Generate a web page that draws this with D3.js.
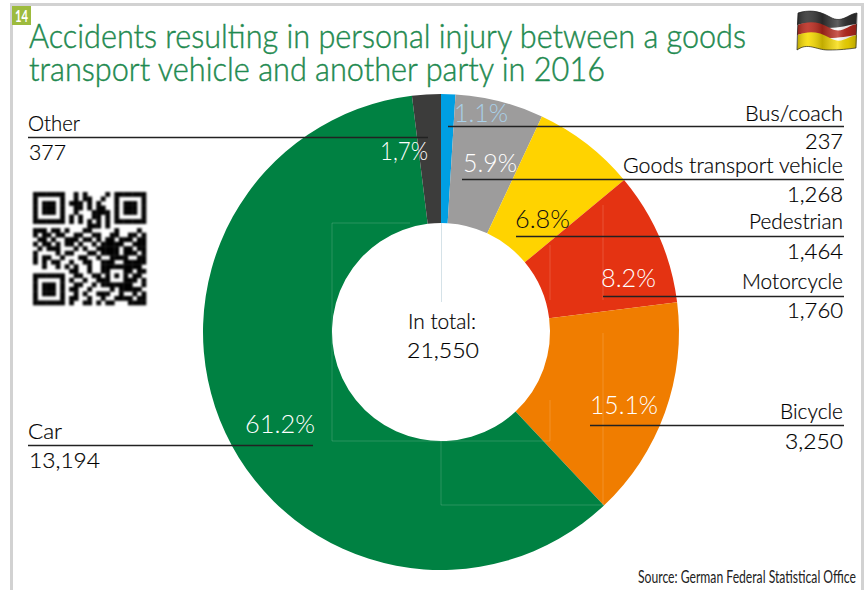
<!DOCTYPE html>
<html><head><meta charset="utf-8">
<script src="https://cdn.jsdelivr.net/npm/d3@7/dist/d3.min.js"></script>
<style>html,body{margin:0;padding:0;background:#fff}svg{display:block}text{font-family:Lato,"Open Sans",sans-serif}</style>
</head><body><svg id="c" width="865" height="590"></svg>
<script>
// ---------- data ----------
const categories = ["Bus/coach","Goods transport vehicle","Pedestrian","Motorcycle","Bicycle","Car","Other"];
const values = [237,1268,1464,1760,3250,13194,377];
const drawnShares = [0.97,6.0,7.0,9.03,15.0,60.05,1.95];
const shareLabels = ["1.1%","5.9%","6.8%","8.2%","15.1%","61.2%","1,7%"];
const titleLines = ["Accidents resulting in personal injury between a goods","transport vehicle and another party in 2016"];
const totalLabel = "In total:";
const sourceText = "Source: German Federal Statistical Office";
const badgeText = "14";
const qrRows = [
"1111111001010000101111111","1000001001011001001000001","1011101011101010001011101",
"1011101001101011001011101","1011101001000111101011101","1000001010100110101000001",
"1111111010101010101111111","0000000000001110100000000","1110110100011000001000010",
"1011011001100110011001101","0110100111011010110111011","1011010110100101111100111",
"0101110001010011111011011","1000010110001101111011101","1011001000110010011110011",
"1010110010011001110011111","0010010101001001111111110","0000000011001001100011011",
"1111111001100110101010110","1000001010010011100011101","1011101001100101111111001",
"1011101011001000010111110","1011101001010011100100101","1000001011001001001111011",
"1111111010011010110001111"];

// ---------- styles / layout ----------
const sliceColors = ["#009fe3","#9d9c9c","#ffd300","#e43312","#f07d00","#008142","#3c3c3b"];
const shareColors = ["#a9d0e8","#fff","#111","#fff","#fff","#fff","#fff"];
const cx = 441, cy = 332, rOuter = 238, rInner = 109;
// [line x0, line x1, line y, name x0, name x1, name baseline, count x0, count x1, count baseline]
const labelLayout = [
 [448,844,126, 745,843,120.5, 805,843,149],
 [462,844,179, 623,843,172.5, 787,843,201.5],
 [516,844,236, 749,843,229, 787,843,259],
 [603,844,296, 742,843,289, 787,843,318],
 [590,844,425, 780,843,419, 785,843,449],
 [28,313,445, 28,62,439, 29,100,468],
 [28,428,137, 28,80,131, 29,66,160]];
// [x0, x1, baseline]
const shareLayout = [[454,508,122],[463,517,172],[515,570,228],[601,656,287],[590,658,414],[245,315,433],[380,428,160]];

const svg = d3.select("#c");
const fit = (sel, x0, x1, y) => sel.attr("x",x0).attr("y",y)
  .attr("textLength",x1-x0).attr("lengthAdjust","spacingAndGlyphs");

// frame
svg.append("path").attr("d","M11.5,590V4.5H862.5V590").attr("fill","none").attr("stroke","#d2d2d2").attr("stroke-width",3);

// badge
svg.append("rect").attr("x",12).attr("y",6).attr("width",19).attr("height",19).attr("fill","#9dbb3d");
fit(svg.append("text").text(badgeText).attr("fill","#fff").attr("font-size",17).attr("font-weight",700)
  .style("font-family","'Liberation Sans Narrow',Lato"),15,28,22);

// title
titleLines.forEach((t,i)=>{
  fit(svg.append("text").text(t).attr("fill","#1f8a50").attr("stroke","#1f8a50").attr("stroke-width",.45)
      .attr("font-size",33).attr("font-weight",300), 29, i?605:746, i?81:48);
});

// flag
const flag = svg.append("g");
const defs = svg.append("defs");
const grad = defs.append("linearGradient").attr("id","fs").attr("x1",0).attr("x2",1).attr("y1",0).attr("y2",0);
[[0,"#000",.25],[.18,"#fff",.12],[.42,"#000",.22],[.68,"#fff",.22],[.85,"#000",.1],[1,"#000",.25]]
 .forEach(s=>grad.append("stop").attr("offset",s[0]).attr("stop-color",s[1]).attr("stop-opacity",s[2]));
const wave = (l,m1,m2,r) => `M798,${l}C808,${m1} 818,${m1} 830,${m2}S848,${r+1} 857,${r}`;
const waveBack = (l,m1,m2,r) => `L856,${r}C848,${r+1} 840,${m2} 828,${m2}S808,${m1} 797,${l}Z`;
const bandTops = [[13,10,17,13],[25,21,28,24],[35,31,38,35],[50,42,50,48]];
const flagColors = ["#333","#bb2a1e","#f8dc00"];
flagColors.forEach((c,i)=>{
  const a=bandTops[i], b=bandTops[i+1];
  flag.append("path").attr("d",wave(...a)+waveBack(...b)).attr("fill",c);
});
flag.append("path").attr("d",wave(...bandTops[0])+waveBack(...bandTops[3])).attr("fill","url(#fs)").attr("stroke","#222").attr("stroke-width",.7);

// QR code
const qrX = d3.scaleBand().domain(d3.range(25)).range([33,146]);
const qrY = d3.scaleBand().domain(d3.range(25)).range([192,305]);
const blur = defs.append("filter").attr("id","qb").attr("x","-5%").attr("y","-5%").attr("width","110%").attr("height","110%");
blur.append("feGaussianBlur").attr("stdDeviation",.9);
const qrG = svg.append("g").attr("filter","url(#qb)");
qrRows.forEach((row,r)=>row.split("").forEach((b,c)=>{
  if(b==="1") qrG.append("rect").attr("x",qrX(c)).attr("y",qrY(r))
    .attr("width",qrX.bandwidth()+.3).attr("height",qrY.bandwidth()+.3).attr("fill","#000");
}));

// donut
const pie = d3.pie().sort(null);
const arc = d3.arc().innerRadius(rInner).outerRadius(rOuter);
const g = svg.append("g").attr("transform",`translate(${cx},${cy})`);
g.selectAll("path").data(pie(drawnShares)).join("path").attr("d",arc).attr("fill",(d,i)=>sliceColors[i]);

// faint artefact guide lines seen in the source
const faint = ["M332,223H410M332,223V441H550V400","M441,441V505H603V333","M603,205V300","M550,245V300"];
svg.selectAll("path.faint").data(faint).join("path").attr("class","faint").attr("d",d=>d)
  .attr("fill","none").attr("stroke","#fff").attr("stroke-opacity",.16).attr("stroke-width",1);
svg.append("path").attr("d","M441.5,223V302").attr("stroke","#d5e2e8").attr("stroke-width",1);

// share labels
shareLabels.forEach((t,i)=>{
  const [x0,x1,y]=shareLayout[i];
  fit(svg.append("text").text(t).attr("fill",shareColors[i]).attr("font-size",25).attr("font-weight",300),x0,x1,y);
});

// leader lines and labels
const fmt = d3.format(",");
categories.forEach((name,i)=>{
  const L = labelLayout[i];
  svg.append("line").attr("x1",L[0]).attr("x2",L[1]).attr("y1",L[2]+.5).attr("y2",L[2]+.5)
    .attr("stroke","#222").attr("stroke-width",1.4);
  fit(svg.append("text").text(name).attr("fill","#000").attr("stroke","#000").attr("stroke-width",.2).attr("font-size",21).attr("font-weight",300),L[3],L[4],L[5]);
  fit(svg.append("text").text(fmt(values[i])).attr("fill","#000").attr("stroke","#000").attr("stroke-width",.2).attr("font-size",21).attr("font-weight",300),L[6],L[7],L[8]);
});

// centre
fit(svg.append("text").text(totalLabel).attr("fill","#000").attr("stroke","#000").attr("stroke-width",.2).attr("font-size",21).attr("font-weight",300),408,476,329);
fit(svg.append("text").text(fmt(d3.sum(values))).attr("fill","#000").attr("stroke","#000").attr("stroke-width",.2).attr("font-size",21).attr("font-weight",300),407,479,358);

// source: squeezed horizontally to the reference's width
const src = svg.append("text").text(sourceText).attr("fill","#222").attr("font-size",18)
  .style("font-family","'Liberation Sans Narrow',Lato");
const srcLen = src.node().getComputedTextLength();
src.attr("transform",`translate(638,583) scale(${(856-638)/srcLen},1)`);
</script></body></html>
